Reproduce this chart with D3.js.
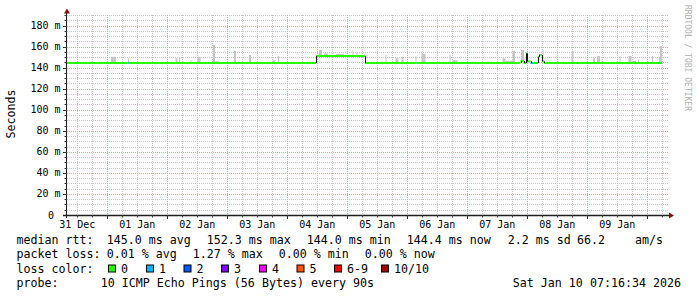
<!DOCTYPE html>
<html><head><meta charset="utf-8">
<title>SmokePing: last 10 days</title>
<script src="https://cdn.jsdelivr.net/npm/d3@7"></script>
<style>
  body { margin: 0; background: #fff; }
  svg { display: block; }
  text { font-family: "DejaVu Sans Mono", monospace; fill: #000; }
  .tick-label { font-size: 10px; }
  .legend { font-size: 11.65px; white-space: pre; }
  .grid-minor { stroke: #c6c6c6; stroke-dasharray: 1,1; }
  .grid-major { stroke: #e2a0a0; stroke-dasharray: 1,1; }
  .axis { stroke: #1e1e1e; }
  .tick { stroke: #333; }
  .arrow { fill: #8a1010; }
  .smoke { fill: #c6c6c6; }
  .watermark { font-size: 8px; fill: #b0b0b0; }
</style>
</head>
<body>
<svg width="697" height="297">
  <g id="grid"></g>
  <g id="smoke"></g>
  <g id="median"></g>
  <g id="axes"></g>
  <g id="legend"></g>
</svg>

<script>
  //begin: data
  var timeStart = "2025-12-31T07:16:34",
      timeEnd = "2026-01-10T07:16:34",
      lastSample = "2026-01-10T05:53";

  // median rtt (ms), step values: each one holds until the next time
  var medianTimes = ["2025-12-31T07:16", "2026-01-01T08:12", "2026-01-01T08:36", "2026-01-04T11:30",
                     "2026-01-05T07:05", "2026-01-06T03:17", "2026-01-06T03:41", "2026-01-07T21:17",
                     "2026-01-07T22:29", "2026-01-07T23:29", "2026-01-07T23:53", "2026-01-08T01:17",
                     "2026-01-08T02:17", "2026-01-08T04:17", "2026-01-08T04:41", "2026-01-08T05:17",
                     "2026-01-08T05:53", "2026-01-08T06:41", "2026-01-08T19:53", "2026-01-08T20:17"];
  var medianValues = [144.4, 144.4, 144.4, 151.0,
                      144.4, 144.4, 144.4, 146.3,
                      144.4, 153.5, 146.0, 144.4,
                      144.4, 150.0, 152.0, 152.0,
                      146.0, 144.4, 144.4, 144.4];
  var medianLoss = [0, 1, 0, 0,
                    0, 1, 0, 0,
                    0, 0, 0, 1,
                    0, 0, 1, 0,
                    0, 0, 1, 0];

  // smoke: start time, length in minutes, highest ping (ms)
  var smokeTimes = ["2025-12-31T16:41", "2025-12-31T20:05", "2026-01-01T01:29", "2026-01-01T08:17", "2026-01-01T12:41",
                    "2026-01-01T21:53", "2026-01-02T03:17", "2026-01-02T04:41", "2026-01-02T06:05", "2026-01-02T09:17",
                    "2026-01-02T12:05", "2026-01-02T14:53", "2026-01-02T18:17", "2026-01-02T19:05", "2026-01-03T02:41",
                    "2026-01-03T08:41", "2026-01-03T12:41", "2026-01-03T18:05", "2026-01-03T20:17", "2026-01-04T01:17",
                    "2026-01-04T05:41", "2026-01-04T12:41", "2026-01-04T14:41", "2026-01-04T19:29", "2026-01-05T02:05",
                    "2026-01-05T03:41", "2026-01-05T08:29", "2026-01-05T13:17", "2026-01-05T15:17", "2026-01-05T19:17",
                    "2026-01-05T21:41", "2026-01-06T01:17", "2026-01-06T03:17", "2026-01-06T05:41", "2026-01-06T12:41",
                    "2026-01-06T16:53", "2026-01-06T18:05", "2026-01-07T02:17", "2026-01-07T08:41", "2026-01-07T14:05",
                    "2026-01-07T15:17", "2026-01-07T18:05", "2026-01-07T21:29", "2026-01-08T06:05", "2026-01-08T11:53",
                    "2026-01-08T17:41", "2026-01-08T21:41", "2026-01-09T02:17", "2026-01-09T03:53", "2026-01-09T05:29",
                    "2026-01-09T12:53", "2026-01-09T16:29", "2026-01-09T17:53", "2026-01-09T20:17", "2026-01-09T23:05",
                    "2026-01-10T01:53", "2026-01-10T04:41", "2026-01-10T05:05"];
  var smokeMinutes = [96, 120, 120, 24, 144,
                      240, 48, 24, 72, 24,
                      72, 72, 48, 96, 48,
                      48, 48, 72, 24, 72,
                      24, 72, 96, 192, 24,
                      24, 48, 72, 24, 72,
                      48, 72, 24, 96, 48,
                      24, 120, 72, 72, 72,
                      168, 60, 72, 24, 144,
                      48, 168, 48, 72, 96,
                      24, 72, 96, 24, 96,
                      24, 24, 48];
  var smokeTops = [145.5, 145.5, 150.3, 148.8, 145.3,
                   145.5, 148.8, 150.0, 145.5, 147.0,
                   150.3, 145.5, 161.4, 146.0, 156.0,
                   152.0, 145.5, 147.0, 151.0, 145.5,
                   145.5, 156.7, 153.5, 153.0, 156.0,
                   155.0, 145.5, 145.5, 152.0, 148.8,
                   150.3, 145.5, 151.0, 153.0, 145.5,
                   152.0, 147.0, 145.5, 145.5, 148.8,
                   146.5, 156.0, 156.7, 156.7, 145.5,
                   156.0, 145.5, 148.8, 151.0, 145.5,
                   151.0, 151.0, 146.5, 147.5, 145.5,
                   151.0, 149.0, 160.5];

  var yTicks = [0, 20, 40, 60, 80, 100, 120, 140, 160, 180];
  var yMax = 190;

  var rttStats = ["145.0", "152.3", "144.0", "144.4"],
      statNames = ["avg", "max", "min", "now"],
      rttSd = "2.2",
      rttAmps = "66.2";
  var lossStats = ["0.01", "1.27", "0.00", "0.00"];
  var lossLabels = ["0", "1", "2", "3", "4", "5", "6-9", "10/10"];
  var lossColors = ["#26ff00", "#00b8ff", "#0059ff", "#7e00ff", "#ff00ff", "#ff5500", "#ff0000", "#a10000"];
  var probeText = "10 ICMP Echo Pings (56 Bytes) every 90s",
      stampText = "Sat Jan 10 07:16:34 2026";
  //end: data

  //begin: layout conf.
  var plotLeft = 67, plotRight = 668, plotTop = 15, plotBottom = 215;
  var parse = function(s){ return new Date(s); };
  var x = d3.scaleTime().domain([parse(timeStart), parse(timeEnd)]).range([65.5, 665.5]);
  var y = d3.scaleLinear().domain([0, yMax]).range([plotBottom, plotTop]);
  //end: layout conf.

  var svg = d3.select("svg"),
      grid = d3.select("#grid"),
      smokeG = d3.select("#smoke"),
      medianG = d3.select("#median"),
      axes = d3.select("#axes"),
      legend = d3.select("#legend");

  //begin: grid
  var minorY = d3.range(5, yMax + 1, 5).filter(function(v){ return v % 20 !== 0; });
  var majorY = yTicks.filter(function(v){ return v > 0; });
  var start = parse(timeStart), end = parse(timeEnd);
  var minorX = d3.timeHour.every(6).range(start, end).filter(function(d){ return d.getHours() !== 0; });
  var majorX = d3.timeDay.range(start, end);

  grid.selectAll(".hmin").data(minorY).enter().append("line")
    .attr("class", "grid-minor")
    .attr("x1", plotLeft).attr("x2", plotRight)
    .attr("y1", function(d){ return Math.round(y(d)) + 0.5; })
    .attr("y2", function(d){ return Math.round(y(d)) + 0.5; });
  grid.selectAll(".vmin").data(minorX).enter().append("line")
    .attr("class", "grid-minor")
    .attr("y1", plotTop).attr("y2", plotBottom)
    .attr("x1", function(d){ return Math.round(x(d)) + 0.5; })
    .attr("x2", function(d){ return Math.round(x(d)) + 0.5; });
  grid.selectAll(".hmaj").data(majorY).enter().append("line")
    .attr("class", "grid-major")
    .attr("x1", plotLeft).attr("x2", plotRight)
    .attr("y1", function(d){ return Math.round(y(d)) + 0.5; })
    .attr("y2", function(d){ return Math.round(y(d)) + 0.5; });
  grid.selectAll(".vmaj").data(majorX).enter().append("line")
    .attr("class", "grid-major")
    .attr("y1", plotTop).attr("y2", plotBottom)
    .attr("x1", function(d){ return Math.round(x(d)) + 0.5; })
    .attr("x2", function(d){ return Math.round(x(d)) + 0.5; });
  //end: grid

  //begin: median + smoke
  var steps = medianTimes.map(function(t, i){
    return {t: parse(t), v: medianValues[i], loss: medianLoss[i],
            t1: parse(i < medianTimes.length - 1 ? medianTimes[i+1] : lastSample)};
  });
  var bis = d3.bisector(function(d){ return d.t; }).right;
  function medianAt(t) { return steps[Math.max(0, bis(steps, t) - 1)].v; }

  var smoke = smokeTimes.map(function(t, i){
    var t0 = parse(t);
    return {t0: t0, t1: new Date(+t0 + smokeMinutes[i]*60000), top: smokeTops[i], base: medianAt(t0)};
  });
  smokeG.selectAll("rect").data(smoke).enter().append("rect")
    .attr("class", "smoke")
    .attr("x", function(d){ return x(d.t0); })
    .attr("width", function(d){ return Math.max(1, x(d.t1) - x(d.t0)); })
    .attr("y", function(d){ return y(d.top); })
    .attr("height", function(d){ return y(d.base) - y(d.top); });

  medianG.selectAll(".seg").data(steps).enter().append("line")
    .attr("class", "seg")
    .attr("x1", function(d){ return x(d.t); })
    .attr("x2", function(d){ return x(d.t1); })
    .attr("y1", function(d){ return y(d.v); })
    .attr("y2", function(d){ return y(d.v); })
    .attr("stroke", function(d){ return lossColors[d.loss]; })
    .attr("stroke-width", 2);
  var jumps = steps.slice(1).map(function(d, i){ return {t: d.t, a: steps[i].v, b: d.v}; })
    .filter(function(d){ return d.a !== d.b; });
  medianG.selectAll(".jump").data(jumps).enter().append("line")
    .attr("class", "jump")
    .attr("x1", function(d){ return Math.round(x(d.t)) + 0.5; })
    .attr("x2", function(d){ return Math.round(x(d.t)) + 0.5; })
    .attr("y1", function(d){ return y(d.a); })
    .attr("y2", function(d){ return y(d.b); })
    .attr("stroke", "#111").attr("stroke-width", 1);
  //end: median + smoke

  //begin: axes
  axes.append("line").attr("class", "axis")
    .attr("x1", 63).attr("x2", 669).attr("y1", plotBottom + 0.5).attr("y2", plotBottom + 0.5)
    .attr("stroke-width", 1.4);
  axes.append("line").attr("class", "axis")
    .attr("x1", plotLeft - 0.5).attr("x2", plotLeft - 0.5).attr("y1", 218).attr("y2", 12);
  axes.append("path").attr("class", "arrow").attr("d", "M64,13.5L67,8.5L70,13.5Z");
  axes.append("path").attr("class", "arrow").attr("d", "M669,212.5L674,215.5L669,218.5Z");

  axes.selectAll(".ytick").data(minorY.concat(majorY)).enter().append("line")
    .attr("class", "tick")
    .attr("x1", function(d){ return d % 20 === 0 ? 63 : 64.5; }).attr("x2", plotLeft)
    .attr("y1", function(d){ return Math.round(y(d)) + 0.5; })
    .attr("y2", function(d){ return Math.round(y(d)) + 0.5; });
  axes.selectAll(".xtick").data(minorX.concat(majorX)).enter().append("line")
    .attr("class", "tick")
    .attr("y1", plotBottom).attr("y2", function(d){ return d.getHours() === 0 ? 219 : 217.5; })
    .attr("x1", function(d){ return Math.round(x(d)) + 0.5; })
    .attr("x2", function(d){ return Math.round(x(d)) + 0.5; });

  axes.selectAll(".ylab").data(yTicks).enter().append("text")
    .attr("class", "tick-label")
    .attr("text-anchor", "end")
    .attr("x", function(d){ return d === 0 ? 54 : 60.5; })
    .attr("y", function(d){ return y(d) + 3.5; })
    .text(function(d){ return d === 0 ? "0" : d + " m"; });

  var fmtDay = d3.timeFormat("%d %b");
  var labelDays = d3.timeDay.range(d3.timeDay.floor(start), end)
    .map(function(d){ return d3.timeHour.offset(d, 12); })
    .filter(function(d){ return d > start && d < end; });
  axes.selectAll(".xlab").data(labelDays).enter().append("text")
    .attr("class", "tick-label")
    .attr("text-anchor", "middle")
    .attr("x", function(d){ return x(d); })
    .attr("y", 227.5)
    .text(function(d){ return fmtDay(d); });

  axes.append("text").attr("class", "legend")
    .attr("text-anchor", "middle")
    .attr("transform", "translate(15,114) rotate(-90)")
    .text("Seconds");

  axes.append("text").attr("class", "watermark")
    .attr("transform", "translate(684.5,5) rotate(90)")
    .text("RRDTOOL / TOBI OETIKER");
  //end: axes

  //begin: legend
  var rows = [244, 258.3, 272.6, 287];
  function addText(tx, ty, s, anchor) {
    legend.append("text").attr("class", "legend")
      .attr("x", tx).attr("y", ty)
      .attr("text-anchor", anchor || "start")
      .text(s);
  }
  addText(16.5, rows[0], "median rtt:");
  rttStats.forEach(function(s, i){ addText(106.7 + i*100, rows[0], s + " ms " + statNames[i]); });
  addText(507.7, rows[0], rttSd + " ms sd");
  addText(577, rows[0], rttAmps);
  addText(635, rows[0], "am/s");

  addText(16.5, rows[1], "packet loss:");
  lossStats.forEach(function(s, i){ addText(106.7 + i*86, rows[1], s + " % " + statNames[i]); });

  addText(16.5, rows[2], "loss color:");
  var boxX = [108.5, 146.5, 184, 221.5, 259.5, 297, 334.5, 381.5];
  legend.selectAll(".lbox").data(lossLabels).enter().append("rect")
    .attr("class", "lbox")
    .attr("x", function(d, i){ return boxX[i]; })
    .attr("y", 265)
    .attr("width", 7).attr("height", 7)
    .attr("fill", function(d, i){ return lossColors[i]; })
    .attr("stroke", "#000").attr("stroke-width", 1);
  lossLabels.forEach(function(s, i){ addText(boxX[i] + 12.5, rows[2], s); });

  addText(16.5, rows[3], "probe:");
  addText(100.7, rows[3], probeText);
  addText(681, rows[3], stampText, "end");
  //end: legend
</script>
</body></html>
